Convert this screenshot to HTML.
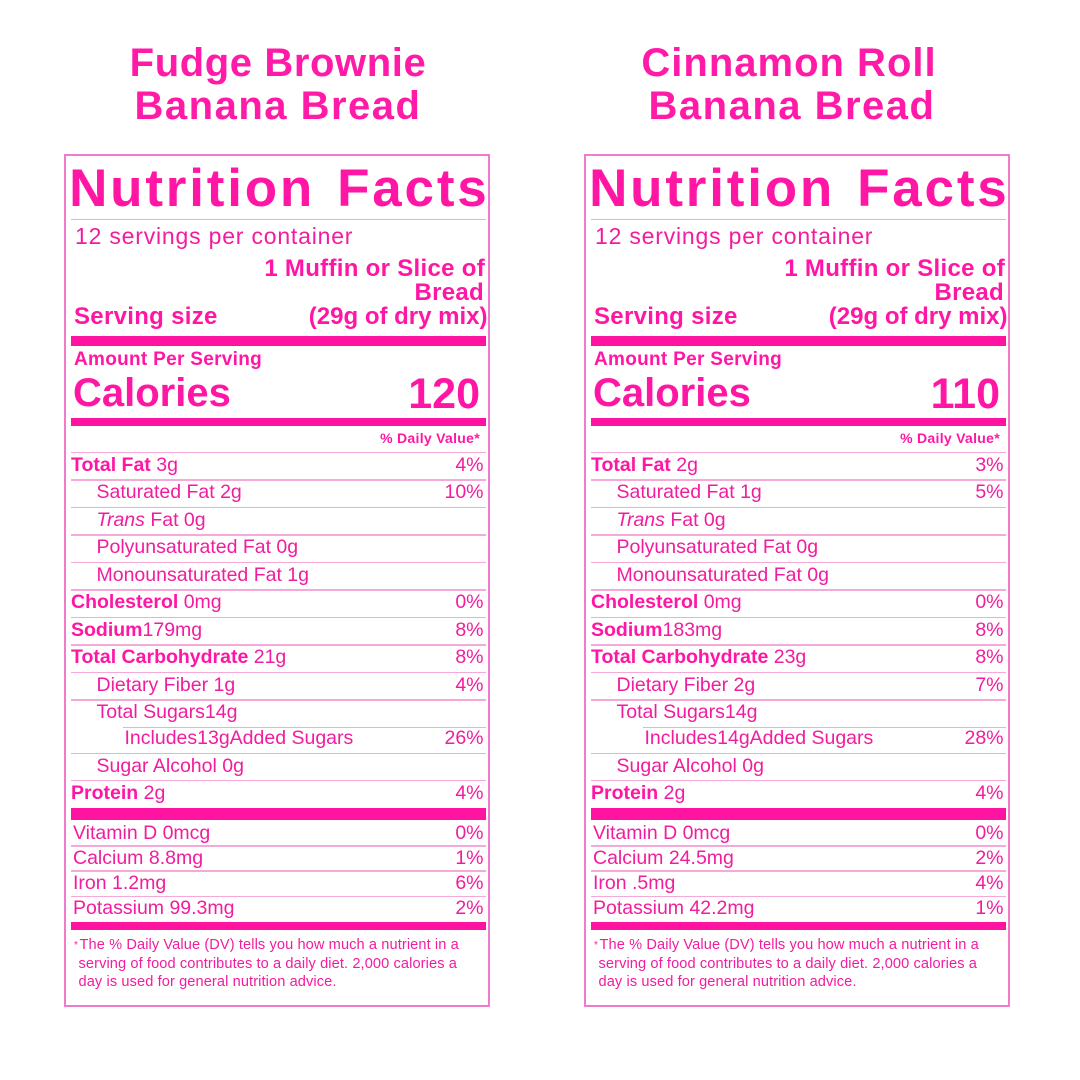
<!DOCTYPE html>
<html>
<head>
<meta charset="utf-8">
<style>
html,body{margin:0;padding:0;width:1080px;height:1080px;overflow:hidden;background:#fff;}
.w{position:absolute;top:0;width:560px;height:1080px;}
.t{position:absolute;white-space:nowrap;line-height:1;font-family:"Liberation Sans",Arial,sans-serif;color:#f21c9f;}
.b{font-weight:bold;color:#ff16a4;}
.bar{position:absolute;left:71px;width:415px;background:#ff14a2;}
.ln{position:absolute;left:71px;width:415px;height:1.5px;background:#f6a8d8;}
.box{position:absolute;left:64px;top:154px;width:426px;height:853px;border:2px solid #f07acc;box-sizing:border-box;}
.title{position:absolute;left:0;width:556px;text-align:center;white-space:nowrap;line-height:1;font-family:"Liberation Sans",Arial,sans-serif;font-weight:bold;font-size:40px;color:#ff1aa8;}
.row{font-size:19.5px;}
.pct{font-size:19.5px;right:76.5px;text-align:right;}
.fn{font-size:14.6px;letter-spacing:0.1px;}
.nf{font-size:53px;letter-spacing:2.8px;top:162.1px;}
</style>
</head>
<body>

<!-- LEFT PANEL -->
<div class="w" style="left:0;">
  <div class="title" style="top:43.2px;letter-spacing:0.6px;">Fudge Brownie</div>
  <div class="title" style="top:85.5px;letter-spacing:1.5px;">Banana Bread</div>
  <div class="box"></div>

  <div class="t b nf" style="left:69.1px;">Nutrition</div>
  <div class="t b nf" style="left:337.1px;">Facts</div>
  <div class="ln" style="top:218.5px;height:1px;"></div>

  <div class="t" style="left:75px;top:224.5px;font-size:23px;letter-spacing:0.8px;">12 servings per container</div>
  <div class="t b" style="right:75px;top:257.4px;font-size:24px;letter-spacing:0.3px;text-align:right;">1 Muffin or Slice of</div>
  <div class="t b" style="right:76px;top:281.4px;font-size:24px;letter-spacing:0.3px;text-align:right;">Bread</div>
  <div class="t b" style="right:72.5px;top:304.7px;font-size:24px;text-align:right;">(29g of dry mix)</div>
  <div class="t b" style="left:74px;top:305.4px;font-size:24px;letter-spacing:0.3px;">Serving size</div>

  <div class="bar" style="top:336px;height:10px;"></div>
  <div class="t b" style="left:74px;top:349.9px;font-size:19px;letter-spacing:0.3px;">Amount Per Serving</div>
  <div class="t b" style="left:73px;top:372.8px;font-size:40px;">Calories</div>
  <div class="t b" style="right:80px;top:372.6px;font-size:43px;text-align:right;">120</div>
  <div class="bar" style="top:418px;height:8px;"></div>
  <div class="t b" style="right:80px;top:431.2px;font-size:14px;letter-spacing:0.3px;text-align:right;">% Daily Value*</div>

  <div class="ln" style="top:451.5px;"></div>
  <div class="ln" style="top:479px;"></div>
  <div class="ln" style="top:506.5px;"></div>
  <div class="ln" style="top:534px;"></div>
  <div class="ln" style="top:561.5px;"></div>
  <div class="ln" style="top:589px;"></div>
  <div class="ln" style="top:616.5px;"></div>
  <div class="ln" style="top:644px;"></div>
  <div class="ln" style="top:671.5px;"></div>
  <div class="ln" style="top:699px;"></div>
  <div class="ln" style="top:726.5px;left:123px;width:363px;"></div>
  <div class="ln" style="top:752.5px;"></div>
  <div class="ln" style="top:779.5px;"></div>

  <div class="t row" style="left:71px;top:455.5px;"><span class="b">Total Fat</span> 3g</div>
  <div class="t pct" style="top:455.5px;">4%</div>
  <div class="t row" style="left:96.5px;top:483px;">Saturated Fat 2g</div>
  <div class="t pct" style="top:483px;">10%</div>
  <div class="t row" style="left:96.5px;top:510.5px;"><i>Trans</i> Fat 0g</div>
  <div class="t row" style="left:96.5px;top:538px;">Polyunsaturated Fat 0g</div>
  <div class="t row" style="left:96.5px;top:565.5px;">Monounsaturated Fat 1g</div>
  <div class="t row" style="left:71px;top:593px;"><span class="b">Cholesterol</span> 0mg</div>
  <div class="t pct" style="top:593px;">0%</div>
  <div class="t row" style="left:71px;top:620.5px;"><span class="b">Sodium</span>179mg</div>
  <div class="t pct" style="top:620.5px;">8%</div>
  <div class="t row" style="left:71px;top:648px;"><span class="b">Total Carbohydrate</span> 21g</div>
  <div class="t pct" style="top:648px;">8%</div>
  <div class="t row" style="left:96.5px;top:675.5px;">Dietary Fiber 1g</div>
  <div class="t pct" style="top:675.5px;">4%</div>
  <div class="t row" style="left:96.5px;top:703px;">Total Sugars14g</div>
  <div class="t row" style="left:124.5px;top:728.5px;">Includes13gAdded Sugars</div>
  <div class="t pct" style="top:728.5px;">26%</div>
  <div class="t row" style="left:96.5px;top:756.5px;">Sugar Alcohol 0g</div>
  <div class="t row" style="left:71px;top:783.5px;"><span class="b">Protein</span> 2g</div>
  <div class="t pct" style="top:783.5px;">4%</div>

  <div class="bar" style="top:808px;height:12px;"></div>
  <div class="t row" style="left:73px;top:823.5px;">Vitamin D 0mcg</div>
  <div class="t pct" style="top:823.5px;">0%</div>
  <div class="ln" style="top:845px;"></div>
  <div class="t row" style="left:73px;top:848.5px;">Calcium 8.8mg</div>
  <div class="t pct" style="top:848.5px;">1%</div>
  <div class="ln" style="top:870px;"></div>
  <div class="t row" style="left:73px;top:873.5px;">Iron 1.2mg</div>
  <div class="t pct" style="top:873.5px;">6%</div>
  <div class="ln" style="top:895.5px;"></div>
  <div class="t row" style="left:73px;top:898.5px;">Potassium 99.3mg</div>
  <div class="t pct" style="top:898.5px;">2%</div>
  <div class="bar" style="top:922px;height:8px;"></div>

  <div class="t" style="left:74px;top:941px;font-size:10px;">*</div>
  <div class="t fn" style="left:79.5px;top:938.3px;">The % Daily Value (DV) tells you how much a nutrient in a</div>
  <div class="t fn" style="left:78.5px;top:956.6px;">serving of food contributes to a daily diet. 2,000 calories a</div>
  <div class="t fn" style="left:78.5px;top:974.9px;">day is used for general nutrition advice.</div>
</div>

<!-- RIGHT PANEL -->
<div class="w" style="left:520px;">
  <div class="title" style="top:43.2px;letter-spacing:1px;left:-9px;">Cinnamon Roll</div>
  <div class="title" style="top:85.5px;letter-spacing:1.5px;left:-6px;">Banana Bread</div>
  <div class="box"></div>

  <div class="t b nf" style="left:69.1px;">Nutrition</div>
  <div class="t b nf" style="left:337.1px;">Facts</div>
  <div class="ln" style="top:218.5px;height:1px;"></div>

  <div class="t" style="left:75px;top:224.5px;font-size:23px;letter-spacing:0.8px;">12 servings per container</div>
  <div class="t b" style="right:75px;top:257.4px;font-size:24px;letter-spacing:0.3px;text-align:right;">1 Muffin or Slice of</div>
  <div class="t b" style="right:76px;top:281.4px;font-size:24px;letter-spacing:0.3px;text-align:right;">Bread</div>
  <div class="t b" style="right:72.5px;top:304.7px;font-size:24px;text-align:right;">(29g of dry mix)</div>
  <div class="t b" style="left:74px;top:305.4px;font-size:24px;letter-spacing:0.3px;">Serving size</div>

  <div class="bar" style="top:336px;height:10px;"></div>
  <div class="t b" style="left:74px;top:349.9px;font-size:19px;letter-spacing:0.3px;">Amount Per Serving</div>
  <div class="t b" style="left:73px;top:372.8px;font-size:40px;">Calories</div>
  <div class="t b" style="right:80px;top:372.6px;font-size:43px;text-align:right;">110</div>
  <div class="bar" style="top:418px;height:8px;"></div>
  <div class="t b" style="right:80px;top:431.2px;font-size:14px;letter-spacing:0.3px;text-align:right;">% Daily Value*</div>

  <div class="ln" style="top:451.5px;"></div>
  <div class="ln" style="top:479px;"></div>
  <div class="ln" style="top:506.5px;"></div>
  <div class="ln" style="top:534px;"></div>
  <div class="ln" style="top:561.5px;"></div>
  <div class="ln" style="top:589px;"></div>
  <div class="ln" style="top:616.5px;"></div>
  <div class="ln" style="top:644px;"></div>
  <div class="ln" style="top:671.5px;"></div>
  <div class="ln" style="top:699px;"></div>
  <div class="ln" style="top:726.5px;left:123px;width:363px;"></div>
  <div class="ln" style="top:752.5px;"></div>
  <div class="ln" style="top:779.5px;"></div>

  <div class="t row" style="left:71px;top:455.5px;"><span class="b">Total Fat</span> 2g</div>
  <div class="t pct" style="top:455.5px;">3%</div>
  <div class="t row" style="left:96.5px;top:483px;">Saturated Fat 1g</div>
  <div class="t pct" style="top:483px;">5%</div>
  <div class="t row" style="left:96.5px;top:510.5px;"><i>Trans</i> Fat 0g</div>
  <div class="t row" style="left:96.5px;top:538px;">Polyunsaturated Fat 0g</div>
  <div class="t row" style="left:96.5px;top:565.5px;">Monounsaturated Fat 0g</div>
  <div class="t row" style="left:71px;top:593px;"><span class="b">Cholesterol</span> 0mg</div>
  <div class="t pct" style="top:593px;">0%</div>
  <div class="t row" style="left:71px;top:620.5px;"><span class="b">Sodium</span>183mg</div>
  <div class="t pct" style="top:620.5px;">8%</div>
  <div class="t row" style="left:71px;top:648px;"><span class="b">Total Carbohydrate</span> 23g</div>
  <div class="t pct" style="top:648px;">8%</div>
  <div class="t row" style="left:96.5px;top:675.5px;">Dietary Fiber 2g</div>
  <div class="t pct" style="top:675.5px;">7%</div>
  <div class="t row" style="left:96.5px;top:703px;">Total Sugars14g</div>
  <div class="t row" style="left:124.5px;top:728.5px;">Includes14gAdded Sugars</div>
  <div class="t pct" style="top:728.5px;">28%</div>
  <div class="t row" style="left:96.5px;top:756.5px;">Sugar Alcohol 0g</div>
  <div class="t row" style="left:71px;top:783.5px;"><span class="b">Protein</span> 2g</div>
  <div class="t pct" style="top:783.5px;">4%</div>

  <div class="bar" style="top:808px;height:12px;"></div>
  <div class="t row" style="left:73px;top:823.5px;">Vitamin D 0mcg</div>
  <div class="t pct" style="top:823.5px;">0%</div>
  <div class="ln" style="top:845px;"></div>
  <div class="t row" style="left:73px;top:848.5px;">Calcium 24.5mg</div>
  <div class="t pct" style="top:848.5px;">2%</div>
  <div class="ln" style="top:870px;"></div>
  <div class="t row" style="left:73px;top:873.5px;">Iron .5mg</div>
  <div class="t pct" style="top:873.5px;">4%</div>
  <div class="ln" style="top:895.5px;"></div>
  <div class="t row" style="left:73px;top:898.5px;">Potassium 42.2mg</div>
  <div class="t pct" style="top:898.5px;">1%</div>
  <div class="bar" style="top:922px;height:8px;"></div>

  <div class="t" style="left:74px;top:941px;font-size:10px;">*</div>
  <div class="t fn" style="left:79.5px;top:938.3px;">The % Daily Value (DV) tells you how much a nutrient in a</div>
  <div class="t fn" style="left:78.5px;top:956.6px;">serving of food contributes to a daily diet. 2,000 calories a</div>
  <div class="t fn" style="left:78.5px;top:974.9px;">day is used for general nutrition advice.</div>
</div>

</body>
</html>
